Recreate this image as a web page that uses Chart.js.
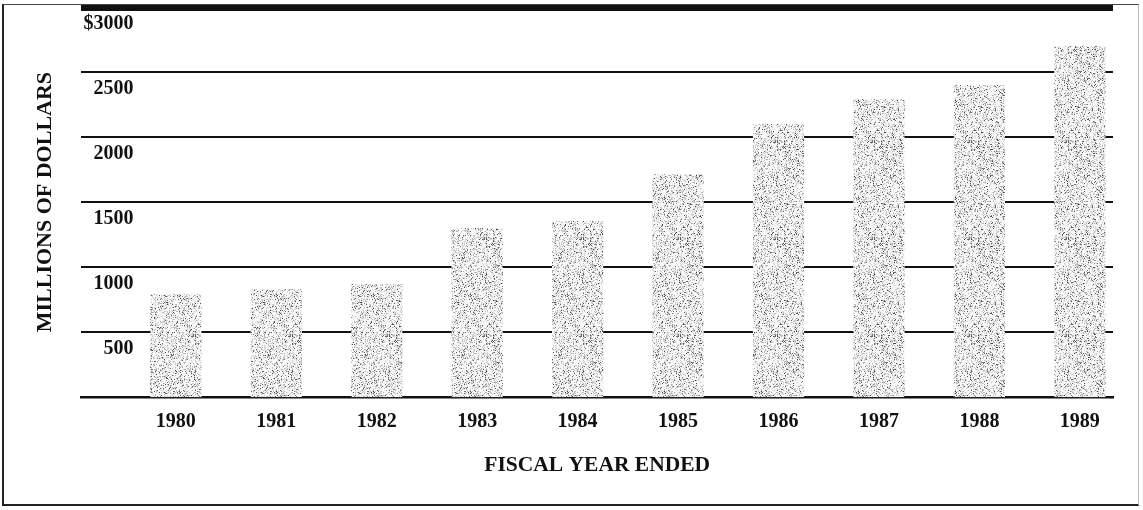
<!DOCTYPE html>
<html>
<head>
<meta charset="utf-8">
<script src="https://cdn.jsdelivr.net/npm/chart.js@4.4.0/dist/chart.umd.min.js"></script>
<style>
body { margin:0; background:#fff; }
#wrap { position:relative; width:1143px; height:510px; }
#marco { position:absolute; left:2px; top:4px; width:1137px; height:502px;
  border-left:2px solid #222; border-top:1px solid #444; border-bottom:2px solid #222;
  border-right:1px solid #bbb; box-sizing:border-box; pointer-events:none; }
</style>
</head>
<body>
<div id="wrap">
<canvas id="grafica" width="1143" height="510"></canvas>
<div id="marco"></div>
</div>
<script>

// DATOS

const anios = [1980, 1981, 1982, 1983, 1984, 1985, 1986, 1987, 1988, 1989];

const millones = [790, 830, 870, 1300, 1355, 1715, 2100, 2290, 2400, 2700];

const ticksY = [0, 500, 1000, 1500, 2000, 2500, 3000];

const etiquetasY = ['', '500', '1000', '1500', '2000', '2500', '$3000'];


// TEXTURA DE PUNTOS PARA LAS BARRAS

function texturaPuntos(){

    const c = document.createElement('canvas');
    c.width = 97;
    c.height = 97;
    const g = c.getContext('2d');
    const img = g.createImageData(97, 97);

    let s = 48271;

    for(let i = 0; i < 97 * 97; i++){

        s = (s * 16807) % 2147483647;
        const r = s / 2147483647;

        let v = 255;
        if(r < 0.08) v = 70 + Math.floor(r * 800);
        else if(r < 0.30) v = 175 + Math.floor((r - 0.08) * 150);
        else v = 240 + Math.floor((r - 0.3) * 21);

        img.data[i*4] = v;
        img.data[i*4+1] = v;
        img.data[i*4+2] = v;
        img.data[i*4+3] = 255;
    }

    g.putImageData(img, 0, 0);
    return g.createPattern(c, 'repeat');
}


// GRAFICA

const ctx = document.getElementById('grafica');

const serif = "'Liberation Serif', 'Times New Roman', serif";

new Chart(ctx, {

    type: 'bar',

    data: {
        datasets: [{
            data: anios.map((a, i) => ({ x: a, y: millones[i] })),
            backgroundColor: texturaPuntos(),
            borderWidth: 0,
            barPercentage: 0.51,
            categoryPercentage: 1
        }]
    },

    options: {

        responsive: false,
        animation: false,

        layout: {
            padding: { left: 13, right: 30, top: 7, bottom: 32 }
        },

        plugins: {
            legend: { display: false },
            tooltip: { enabled: false }
        },

        scales: {

            x: {
                type: 'linear',
                offset: false,
                min: 1979.06,
                max: 1989.33,
                z: 1,
                afterBuildTicks: s => { s.ticks = anios.map(v => ({ value: v })); },
                grid: { display: false, drawTicks: false },
                border: { display: true, color: '#111', width: 2.5 },
                ticks: {
                    padding: 13,
                    color: '#111',
                    font: { family: serif, size: 20, weight: 'bold' },
                    callback: v => String(v)
                },
                title: {
                    display: true,
                    text: 'FISCAL YEAR ENDED',
                    color: '#111',
                    font: { family: serif, size: 21.5, weight: 'bold' },
                    padding: { top: 5, bottom: 0 }
                }
            },

            y: {
                min: 0,
                max: 3000,
                afterBuildTicks: s => { s.ticks = ticksY.map(v => ({ value: v })); },
                afterFit: s => { s.paddingTop = 0; s.paddingBottom = 0; },
                grid: {
                    drawTicks: false,
                    color: '#111',
                    lineWidth: c => c.tick.value === 3000 ? 7 : (c.tick.value === 0 ? 0 : 2)
                },
                border: { display: false },
                ticks: {
                    mirror: true,
                    crossAlign: 'far',
                    padding: 2,
                    labelOffset: 17,
                    color: '#111',
                    font: { family: serif, size: 20, weight: 'bold' },
                    callback: v => etiquetasY[ticksY.indexOf(v)]
                },
                title: {
                    display: true,
                    text: 'MILLIONS OF DOLLARS',
                    color: '#111',
                    font: { family: serif, size: 22, weight: 'bold' },
                    padding: { top: 19, bottom: 19 }
                }
            }

        }

    }

});

</script>
</body>
</html>
